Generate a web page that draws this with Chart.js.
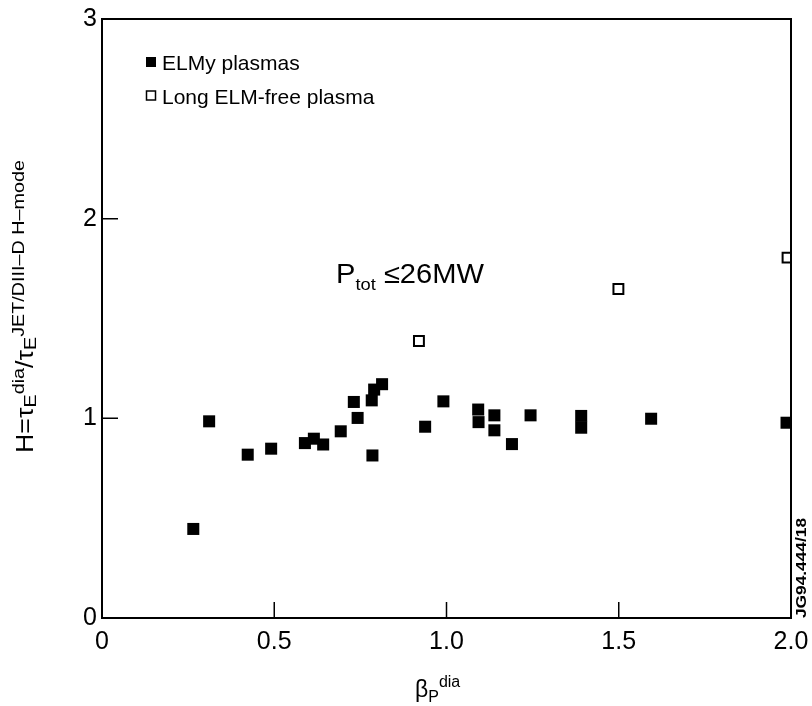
<!DOCTYPE html>
<html>
<head>
<meta charset="utf-8">
<script src="https://cdn.jsdelivr.net/npm/chart.js@4"></script>
<style>
	html, body { margin: 0; padding: 0; background: #fff; }
	#wrap { width: 812px; height: 706px; }
</style>
</head>
<body>
<div id="wrap"><canvas id="chart" width="812" height="706"></canvas></div>
<script>
(function () {
	'use strict';

	// Data.
	var elmyX = [0.265, 0.311, 0.423, 0.491, 0.589, 0.615, 0.642, 0.693, 0.731, 0.742,
		0.785, 0.783, 0.790, 0.813, 0.938, 0.991, 1.092, 1.093, 1.139, 1.139,
		1.190, 1.244, 1.391, 1.391, 1.594, 1.987];
	var elmyY = [0.446, 0.985, 0.818, 0.848, 0.876, 0.898, 0.869, 0.935, 1.082, 1.002,
		0.814, 1.090, 1.144, 1.171, 0.958, 1.085, 1.044, 0.981, 1.015, 0.940,
		0.871, 1.015, 1.012, 0.953, 0.998, 0.978];

	var freeX = [0.920, 1.499, 1.990];
	var freeY = [1.387, 1.648, 1.805];

	var xTicks = [0, 0.5, 1.0, 1.5, 2.0];
	var xTickLabels = ['0', '0.5', '1.0', '1.5', '2.0'];
	var yTicks = [0, 1, 2, 3];
	var yTickLabels = ['0', '1', '2', '3'];

	var FONT = "'Liberation Sans', Arial, Helvetica, sans-serif";

	function toPoints(xs, ys) {
		return xs.map(function (x, i) { return { x: x, y: ys[i] }; });
	}

	// Width of a run of text pieces.
	function measureRich(ctx, parts) {
		var w = 0;
		parts.forEach(function (p) {
			ctx.font = (p.w || '') + ' ' + p.size + 'px ' + FONT;
			w += ctx.measureText(p.t).width;
		});
		return w;
	}

	// Draw a run of text pieces (sub/superscripts) along a baseline.
	function drawRich(ctx, parts, x, y) {
		var cx = x;
		parts.forEach(function (p) {
			ctx.font = (p.w || '') + ' ' + p.size + 'px ' + FONT;
			ctx.fillText(p.t, cx, y + (p.dy || 0));
			cx += ctx.measureText(p.t).width;
		});
		return cx - x;
	}

	var framePlugin = {
		id: 'frame',
		afterDraw: function (chart) {
			var ctx = chart.ctx;
			var a = chart.chartArea;
			var xs = chart.scales.x;
			var ys = chart.scales.y;

			ctx.save();
			ctx.strokeStyle = '#000';
			ctx.lineWidth = 2;

			// top and right edges of the box
			ctx.beginPath();
			ctx.moveTo(a.left, a.top);
			ctx.lineTo(a.right, a.top);
			ctx.lineTo(a.right, a.bottom);
			ctx.stroke();

			// inward ticks
			ctx.lineWidth = 1.5;
			ctx.beginPath();
			[0.5, 1.0, 1.5].forEach(function (v) {
				var px = xs.getPixelForValue(v);
				ctx.moveTo(px, a.bottom);
				ctx.lineTo(px, a.bottom - 16);
			});
			[1, 2].forEach(function (v) {
				var py = ys.getPixelForValue(v);
				ctx.moveTo(a.left, py);
				ctx.lineTo(a.left + 16, py);
			});
			ctx.stroke();

			ctx.fillStyle = '#000';
			ctx.textBaseline = 'alphabetic';
			ctx.textAlign = 'left';

			// legend
			ctx.fillRect(146, 57, 10, 10);
			ctx.lineWidth = 1.5;
			ctx.strokeRect(146.5, 91, 9, 9);
			ctx.font = '21px ' + FONT;
			ctx.fillText('ELMy plasmas', 162, 70);
			ctx.fillText('Long ELM-free plasma', 162, 104);

			// power annotation
			var pParts = [
				{ t: 'P', size: 27 },
				{ t: 'tot', size: 17, dy: 7 },
				{ t: ' \u226426MW', size: 27 }
			];
			ctx.save();
			ctx.translate(336, 283);
			ctx.scale(148 / measureRich(ctx, pParts), 1);
			drawRich(ctx, pParts, 0, 0);
			ctx.restore();

			// x axis title
			drawRich(ctx, [
				{ t: '\u03b2', size: 23 },
				{ t: 'P', size: 16, dy: 5 },
				{ t: 'dia', size: 16, dy: -10 }
			], 415, 697);

			// y axis title (rotated), stretched to the length it has in the figure
			var yParts = [
				{ t: 'H=\u03c4', size: 23 },
				{ t: 'E', size: 17, dy: 3 },
				{ t: 'dia', size: 17, dy: -9 },
				{ t: '/\u03c4', size: 23 },
				{ t: 'E', size: 17, dy: 3 },
				{ t: 'JET/DIII\u2013D H\u2013mode', size: 17, dy: -9 }
			];
			ctx.save();
			ctx.translate(33, 453);
			ctx.rotate(-Math.PI / 2);
			ctx.scale(293 / measureRich(ctx, yParts), 1);
			drawRich(ctx, yParts, 0, 0);
			ctx.restore();

			// figure id on the right edge
			ctx.save();
			ctx.translate(806, 618);
			ctx.rotate(-Math.PI / 2);
			ctx.font = 'bold 15px ' + FONT;
			var w = ctx.measureText('JG94.444/18').width;
			ctx.scale(100 / w, 1);
			ctx.fillText('JG94.444/18', 0, 0);
			ctx.restore();

			ctx.restore();
		}
	};

	new Chart(document.getElementById('chart'), {
		type: 'scatter',
		data: {
			datasets: [
				{
					label: 'ELMy plasmas',
					data: toPoints(elmyX, elmyY),
					pointStyle: 'rect',
					radius: 8.5,
					backgroundColor: '#000',
					borderWidth: 0
				},
				{
					label: 'Long ELM-free plasma',
					data: toPoints(freeX, freeY),
					pointStyle: 'rect',
					radius: 7,
					backgroundColor: '#fff',
					borderColor: '#000',
					borderWidth: 2
				}
			]
		},
		options: {
			responsive: false,
			animation: false,
			layout: { padding: { top: 19, right: 21, left: 0, bottom: 0 } },
			plugins: {
				legend: { display: false },
				tooltip: { enabled: false }
			},
			scales: {
				x: {
					type: 'linear',
					min: 0,
					max: 2,
					afterFit: function (scale) {
						scale.height = 88;
						scale.paddingLeft = 0;
						scale.paddingRight = 0;
					},
					afterBuildTicks: function (scale) {
						scale.ticks = xTicks.map(function (v) { return { value: v }; });
					},
					ticks: {
						color: '#000',
						padding: 9,
						font: { family: FONT, size: 25 },
						callback: function (value) {
							var i = xTicks.indexOf(value);
							return i >= 0 ? xTickLabels[i] : '';
						}
					},
					grid: { drawOnChartArea: false, drawTicks: false },
					border: { display: true, color: '#000', width: 2 }
				},
				y: {
					type: 'linear',
					min: 0,
					max: 3,
					afterFit: function (scale) {
						scale.width = 102;
						scale.paddingTop = 0;
						scale.paddingBottom = 0;
					},
					afterBuildTicks: function (scale) {
						scale.ticks = yTicks.map(function (v) { return { value: v }; });
					},
					ticks: {
						color: '#000',
						padding: 5,
						font: { family: FONT, size: 25 },
						callback: function (value) {
							var i = yTicks.indexOf(value);
							return i >= 0 ? yTickLabels[i] : '';
						}
					},
					grid: { drawOnChartArea: false, drawTicks: false },
					border: { display: true, color: '#000', width: 2 }
				}
			}
		},
		plugins: [framePlugin]
	});
})();
</script>
</body>
</html>
